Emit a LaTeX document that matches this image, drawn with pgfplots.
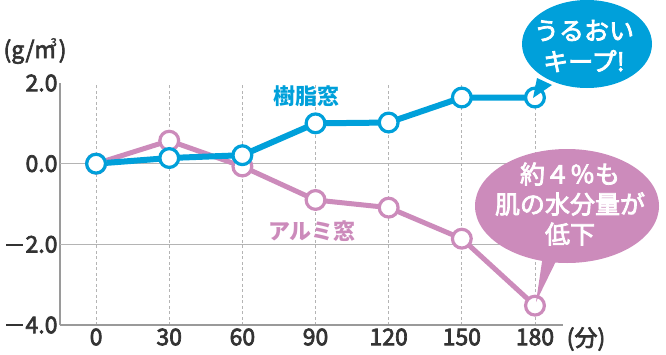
\documentclass[border=0pt]{standalone}
\usepackage{pgfplots}
\pgfplotsset{compat=1.18}
\usepackage{fontspec}
\setmainfont{Noto Sans CJK JP}
\newfontfamily\medfont[FakeBold=3]{Noto Sans CJK JP}
\definecolor{jblue}{HTML}{00A0DA}
\definecolor{jpink}{HTML}{CC8BBB}
\definecolor{tgray}{HTML}{333333}
\definecolor{ggray}{HTML}{B4B4B4}
\definecolor{agray}{HTML}{9A9A9A}
\newcommand\mydash{\rule[0.3em]{0.75em}{0.09em}\hspace{0.1em}}
\begin{document}
\begin{tikzpicture}[x=1bp,y=1bp]
\path[use as bounding box] (0,0) rectangle (666,354);
\begin{axis}[
  at={(60bp,29bp)}, anchor=south west,
  scale only axis, width=503bp, height=242bp,
  xmin=-14.8, xmax=191.5, ymin=-4, ymax=2,
  axis x line*=bottom, axis y line*=left,
  axis line style={draw=agray, line width=1.3bp},
  xtick={0,30,60,90,120,150,180},
  xticklabels={0,30,60,90,120,150,180},
  ytick={-4,-2,0,2},
  yticklabels={\mydash4.0,\mydash2.0,0.0,2.0},
  extra y ticks={-2,0},
  extra y tick labels={},
  extra y tick style={grid=major, major grid style={draw=ggray, line width=1.3bp, solid}},
  major tick length=0pt,
  xmajorgrids,
  major grid style={draw=ggray, line width=0.8bp, dash pattern=on 3bp off 2.5bp},
  tick label style={font=\medfont\fontsize{23bp}{26bp}\selectfont, text=tgray},
  yticklabel style={xshift=1bp},
  clip=false,
]
\addplot[jpink, line width=5bp, mark=*, mark size=9.4bp,
  mark options={fill=white, draw=jpink, line width=3.2bp}]
  coordinates {(0,0) (30,0.57) (60,-0.07) (90,-0.9) (120,-1.09) (150,-1.86) (180,-3.52)};
\addplot[jblue, line width=6bp, mark=*, mark size=9.4bp,
  mark options={fill=white, draw=jblue, line width=3.2bp}]
  coordinates {(0,0) (30,0.14) (60,0.21) (90,1.0) (120,1.02) (150,1.64) (180,1.64)};
\end{axis}
\begin{scope}[shift={(0,354)},yscale=-1]
  % labels
  \node[text=jblue, font=\fontsize{22bp}{26bp}\selectfont\bfseries] at (306,96) {樹脂窓};
  \node[text=jpink, font=\fontsize{22bp}{26bp}\selectfont\bfseries] at (312,231) {アルミ窓};
  \node[text=tgray, font=\medfont\fontsize{23bp}{26bp}\selectfont] at (35,51) {(g/m\kern-0.22em\raisebox{0.52em}{\fontsize{11bp}{12bp}\selectfont 3}\kern0.08em)};
  \node[text=tgray, font=\medfont\fontsize{23bp}{26bp}\selectfont] at (586,339) {(分)};
  % blue balloon
  \fill[jblue] (587,44) ellipse [x radius=65, y radius=44];
  \fill[jblue] (537,78) -- (533,98) -- (552,85) -- cycle;
  \node[text=white, font=\medfont\fontsize{25bp}{31bp}\selectfont, align=center] at (584,46) {うるおい\\キープ!};
  % pink balloon
  \fill[jpink] (567,206) ellipse [x radius=92, y radius=57];
  \fill[jpink] (543,255) -- (536,302) -- (559,255) -- cycle;
  \node[text=white, font=\medfont\fontsize{25bp}{30bp}\selectfont, align=center] at (570,204) {約４％も\\肌の水分量が\\低下};
\end{scope}
\end{tikzpicture}
\end{document}
